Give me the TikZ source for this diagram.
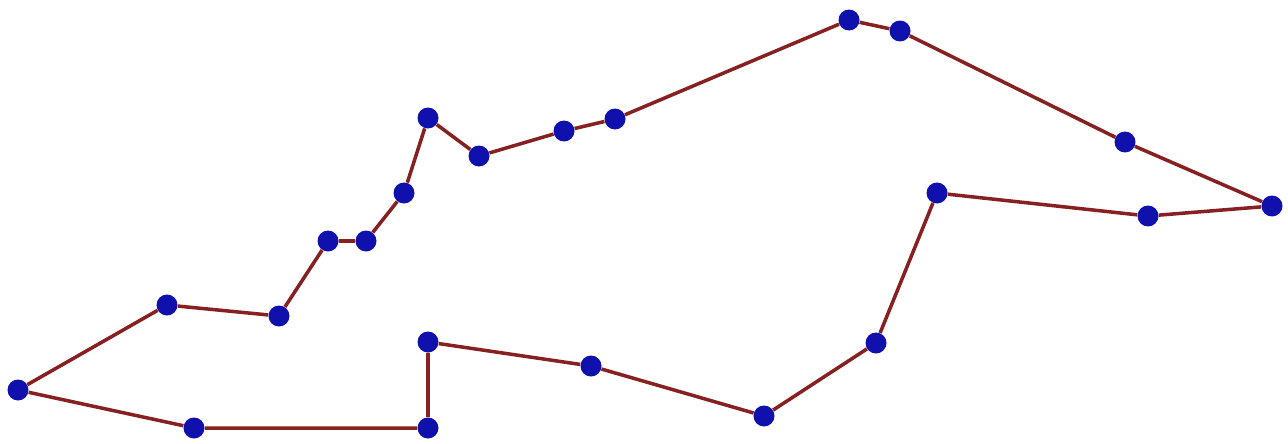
\documentclass[tikz,border=0pt]{standalone}
\usepackage{tikz}
\definecolor{vtx}{RGB}{16,16,172}
\definecolor{edg}{RGB}{135,32,32}

\begin{document}
\begin{tikzpicture}[x=0.02cm,y=-0.02cm,
  pt/.style={circle,fill=vtx,inner sep=0pt,minimum size=0.42cm},
  rim/.style={draw=edg,line width=2pt,line join=round}]
  \useasboundingbox (0,0) rectangle (1288,443);
  \node[pt] (p1) at (18,390) {};
  \node[pt] (p2) at (167,305) {};
  \node[pt] (p3) at (279,316) {};
  \node[pt] (p4) at (328,241) {};
  \node[pt] (p5) at (366,241) {};
  \node[pt] (p6) at (404,193) {};
  \node[pt] (p7) at (428,118) {};
  \node[pt] (p8) at (479,156) {};
  \node[pt] (p9) at (564,131) {};
  \node[pt] (p10) at (615,119) {};
  \node[pt] (p11) at (849,20) {};
  \node[pt] (p12) at (900,31) {};
  \node[pt] (p13) at (1125,142) {};
  \node[pt] (p14) at (1272,206) {};
  \node[pt] (p15) at (1148,216) {};
  \node[pt] (p16) at (937,193) {};
  \node[pt] (p17) at (876,343) {};
  \node[pt] (p18) at (764,416) {};
  \node[pt] (p19) at (591,366) {};
  \node[pt] (p20) at (428,342) {};
  \node[pt] (p21) at (428,428) {};
  \node[pt] (p22) at (194,428) {};
  % outline
  \draw[rim] (p1)--(p2)--(p3)--(p4)--(p5)--(p6)--(p7)--(p8)--(p9)--(p10)--(p11)
    --(p12)--(p13)--(p14)--(p15)--(p16)--(p17)--(p18)--(p19)--(p20)--(p21)--(p22)--(p1);
\end{tikzpicture}
\end{document}
